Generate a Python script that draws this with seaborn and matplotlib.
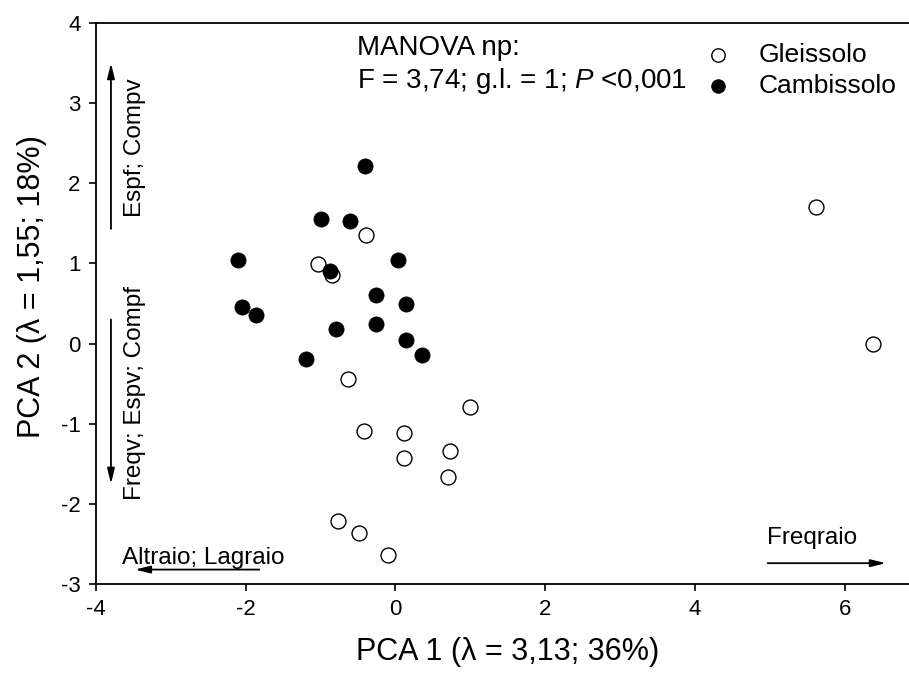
"""PCA ordination - Gleissolo vs Cambissolo (scores PCA 1 x PCA 2)."""

import matplotlib

matplotlib.use("Agg")
import matplotlib.pyplot as plt
import pandas as pd
import seaborn as sns

sns.set_style("ticks")
plt.rcParams["font.family"] = ["Liberation Sans", "DejaVu Sans"]
plt.rcParams["mathtext.fontset"] = "custom"
plt.rcParams["mathtext.rm"] = "Liberation Sans"
plt.rcParams["mathtext.it"] = "Liberation Sans:italic"
plt.rcParams["axes.unicode_minus"] = False
plt.rcParams["text.color"] = "black"
plt.rcParams["axes.labelcolor"] = "black"
plt.rcParams["xtick.color"] = "black"
plt.rcParams["ytick.color"] = "black"
plt.rcParams["axes.edgecolor"] = "black"

# scores
gleis_x = [-0.39, -1.04, -0.85, -0.63, 1.00, -0.42, 0.12, 0.73, 0.12, 0.70,
           -0.77, -0.49, -0.10, 5.61, 6.38]
gleis_y = [1.36, 0.99, 0.85, -0.44, -0.79, -1.09, -1.11, -1.34, -1.43, -1.66,
           -2.21, -2.36, -2.64, 1.71, 0.00]
camb_x = [-0.41, -0.99, -0.61, 0.03, -0.87, -0.26, 0.14, -0.79, -0.26, 0.14,
          0.36, -1.19, -2.11, -2.05, -1.86]
camb_y = [2.21, 1.56, 1.53, 1.04, 0.91, 0.61, 0.49, 0.18, 0.24, 0.04,
          -0.14, -0.19, 1.04, 0.46, 0.36]

x_ticks = [-4, -2, 0, 2, 4, 6]
y_ticks = [-3, -2, -1, 0, 1, 2, 3, 4]

gleis = pd.DataFrame({"pc1": gleis_x, "pc2": gleis_y})
camb = pd.DataFrame({"pc1": camb_x, "pc2": camb_y})

fig = plt.figure(figsize=(9.09, 6.79), dpi=100)
ax = fig.add_axes([0.1056, 0.1399, 0.9061, 0.8262])

sns.scatterplot(data=gleis, x="pc1", y="pc2", ax=ax, s=115, facecolor="white",
                edgecolor="black", linewidth=1.0, label="Gleissolo", zorder=3)
sns.scatterplot(data=camb, x="pc1", y="pc2", ax=ax, s=120, color="black",
                edgecolor="black", linewidth=0.5, label="Cambissolo", zorder=4)

ax.set_xlim(-4, 7)
ax.set_ylim(-3, 4)
ax.set_xticks(x_ticks)
ax.set_yticks(y_ticks)
ax.tick_params(direction="out", length=5, width=1.2, labelsize=16, pad=6)
for sp in ax.spines.values():
    sp.set_linewidth(1.3)
    sp.set_visible(True)

ax.set_xlabel("PCA 1 (λ = 3,13; 36%)", fontsize=22, labelpad=12)
ax.set_ylabel("PCA 2 (λ = 1,55; 18%)", fontsize=22)
ax.yaxis.set_label_coords(-0.06, 0.53)

# texto da MANOVA
ax.text(-0.51, 3.69, "MANOVA np:", fontsize=20, va="center", ha="left")
ax.text(-0.51, 3.28, "F = 3,74; g.l. = 1; $P$ <0,001", fontsize=20,
        va="center", ha="left")

leg = ax.legend(frameon=False, loc="upper left", bbox_to_anchor=(0.71, 0.983),
                fontsize=19, handletextpad=0.55, labelspacing=0.25,
                borderaxespad=0, markerscale=0.9)

# vetores das variaveis
arrow = dict(arrowstyle="-|>,head_length=0.9,head_width=0.22", color="black",
             lw=1.3, shrinkA=0, shrinkB=0)
ax.annotate("", xy=(-3.80, 3.50), xytext=(-3.80, 1.43), arrowprops=arrow)
ax.annotate("", xy=(-3.80, -1.75), xytext=(-3.80, 0.30), arrowprops=arrow)
ax.annotate("", xy=(-3.48, -2.82), xytext=(-1.82, -2.82), arrowprops=arrow)
ax.annotate("", xy=(6.55, -2.74), xytext=(4.97, -2.74), arrowprops=arrow)

ax.text(-3.48, 2.45, "Espf; Compv", rotation=90, fontsize=17.5,
        ha="center", va="center")
ax.text(-3.48, -0.62, "Freqv; Espv; Compf", rotation=90, fontsize=17.5,
        ha="center", va="center")
ax.text(-2.57, -2.67, "Altraio; Lagraio", fontsize=17.5, ha="center", va="center")
ax.text(5.57, -2.42, "Freqraio", fontsize=17.5, ha="center", va="center")

fig.savefig("out.png", dpi=100)
plt.close(fig)
